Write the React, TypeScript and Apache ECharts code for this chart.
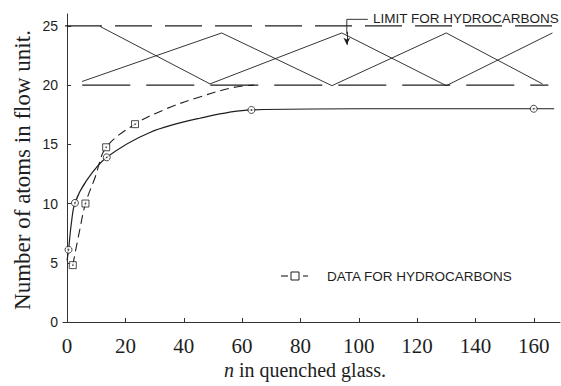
import React, { useEffect, useRef } from "react";
import * as echarts from "echarts";

// ---- data ----
const xTicks = [0, 20, 40, 60, 80, 100, 120, 140, 160];
const yTicks = [0, 5, 10, 15, 20, 25];

// circles (solid curve)
const circlePoints: [number, number][] = [
  [0.5, 6.1],
  [2.7, 10.05],
  [13.6, 13.9],
  [63.2, 17.9],
  [160, 18.0],
];
// squares: data for hydrocarbons (dashed curve)
const squarePoints: [number, number][] = [
  [1.95, 4.8],
  [6.3, 10.0],
  [13.4, 14.75],
  [23.3, 16.7],
];
// hand-drawn curves
const solidCurve: [number, number][] = [
  [0, 5.2],
  [0.5, 6.1],
  [1.5, 8.4],
  [2.7, 10.05],
  [6.7, 11.95],
  [13.6, 13.9],
  [28.4, 16.0],
  [45.5, 17.2],
  [63.2, 17.9],
  [100, 18.0],
  [160, 18.0],
  [167, 18.0],
];
const dashedCurve: [number, number][] = [
  [1.95, 4.8],
  [4.2, 7.6],
  [6.3, 10.0],
  [9.6, 12.2],
  [13.4, 14.75],
  [23.3, 16.7],
  [34, 18.0],
  [45.5, 19.0],
  [57, 19.8],
  [64, 20.0],
];
// limit band
const limitTop: [number, number][] = [
  [-0.7, 25],
  [167, 25],
];
const limitBottom: [number, number][] = [
  [5.2, 20],
  [165, 20],
];
const zigzag1: [number, number][] = [
  [11.3, 24.95],
  [49, 20.1],
  [94.2, 24.4],
  [130, 19.95],
  [166.4, 24.4],
];
const zigzag2: [number, number][] = [
  [5.1, 20.3],
  [53, 24.4],
  [90.8, 19.95],
  [130, 24.4],
  [163, 20.1],
];
const arrowPath: [number, number][] = [
  [103.1, 25.55],
  [95.9, 25.55],
  [95.9, 24.3],
];

const INK = "#1e1e1e";

export default function App() {
  const ref = useRef<HTMLDivElement>(null);
  useEffect(() => {
    document.body.style.margin = "0";
    const chart = echarts.init(ref.current!, null, { renderer: "svg" });
    const serif = "'Liberation Serif', 'Times New Roman', serif";
    const sans = "'Liberation Sans', Arial, sans-serif";
    const lineSeries = (data: [number, number][], type: any, width = 1) => ({
      type: "line",
      data,
      showSymbol: false,
      symbol: "none",
      silent: true,
      lineStyle: { color: INK, width, type },
      z: 2,
    });
    chart.setOption({
      animation: false,
      backgroundColor: "#fff",
      grid: { left: 63, right: 1, top: 14, bottom: 64, containLabel: false },
      xAxis: {
        type: "value",
        min: -1.4,
        max: 169,
        axisLine: { show: true, lineStyle: { color: "#333", width: 1 } },
        axisTick: {
          show: true,
          inside: true,
          length: 4,
          customValues: xTicks,
          lineStyle: { color: "#333" },
        },
        axisLabel: {
          customValues: xTicks,
          fontFamily: serif,
          fontSize: 21,
          color: INK,
          margin: 13,
        },
        splitLine: { show: false },
      },
      yAxis: {
        type: "value",
        min: 0,
        max: 26,
        axisLine: { show: true, lineStyle: { color: "#333", width: 1 } },
        axisTick: {
          show: true,
          inside: true,
          length: 4,
          customValues: yTicks,
          lineStyle: { color: "#333" },
        },
        axisLabel: {
          customValues: yTicks,
          fontFamily: sans,
          fontSize: 14,
          color: INK,
          margin: 5,
        },
        splitLine: { show: false },
      },
      series: [
        lineSeries(limitTop, [37, 13], 1.1),
        lineSeries(limitBottom, [48, 16], 1.1),
        lineSeries(zigzag1, "solid", 0.9),
        lineSeries(zigzag2, "solid", 0.9),
        {
          ...lineSeries(arrowPath, "solid", 0.9),
          markLine: {
            silent: true,
            symbol: ["none", "arrow"],
            symbolSize: [5, 7],
            label: { show: false },
            lineStyle: { color: INK, width: 0.9, type: "solid" },
            data: [[{ coord: [95.9, 24.5] }, { coord: [95.9, 23.4] }]],
          },
        },
        { ...lineSeries(solidCurve, "solid", 1.2), smooth: 0.35 },
        { ...lineSeries(dashedCurve, [9, 5], 1.1), smooth: 0.35 },
        {
          type: "scatter",
          data: circlePoints,
          symbol: "circle",
          symbolSize: 7,
          itemStyle: { color: "#fff", borderColor: INK, borderWidth: 1 },
          z: 5,
        },
        {
          type: "scatter",
          data: squarePoints,
          symbol: "rect",
          symbolSize: 7,
          itemStyle: { color: "#fff", borderColor: INK, borderWidth: 1 },
          z: 5,
        },
        {
          type: "scatter",
          data: [...circlePoints, ...squarePoints],
          symbol: "circle",
          symbolSize: 1.6,
          itemStyle: { color: INK },
          z: 6,
        },
      ],
      graphic: [
        {
          type: "text",
          x: 22,
          y: 170,
          rotation: Math.PI / 2,
          style: {
            text: "Number of atoms in flow unit.",
            fontFamily: serif,
            fontSize: 23,
            fill: INK,
            align: "center",
            verticalAlign: "middle",
          },
        },
        {
          type: "text",
          x: 305,
          y: 370,
          style: {
            text: "{i|n} in quenched glass.",
            fontFamily: serif,
            fontSize: 20,
            fill: INK,
            align: "center",
            verticalAlign: "middle",
            rich: {
              i: { fontStyle: "italic", fontFamily: serif, fontSize: 20, fill: INK },
            },
          },
        },
        {
          type: "text",
          x: 373,
          y: 18,
          style: {
            text: "LIMIT FOR HYDROCARBONS",
            fontFamily: sans,
            fontSize: 13.5,
            fill: INK,
            align: "left",
            verticalAlign: "middle",
          },
        },
        {
          type: "line",
          shape: { x1: 281, y1: 276, x2: 288, y2: 276 },
          style: { stroke: INK, lineWidth: 1.1 },
        },
        {
          type: "rect",
          shape: { x: 291, y: 272, width: 8, height: 8 },
          style: { fill: "#fff", stroke: INK, lineWidth: 1 },
        },
        {
          type: "line",
          shape: { x1: 303, y1: 276, x2: 308, y2: 276 },
          style: { stroke: INK, lineWidth: 1.1 },
        },
        {
          type: "text",
          x: 327,
          y: 276,
          style: {
            text: "DATA FOR HYDROCARBONS",
            fontFamily: sans,
            fontSize: 13.5,
            fill: INK,
            align: "left",
            verticalAlign: "middle",
          },
        },
      ],
    });
    return () => chart.dispose();
  }, []);
  return <div ref={ref} style={{ width: 561, height: 386 }} />;
}
